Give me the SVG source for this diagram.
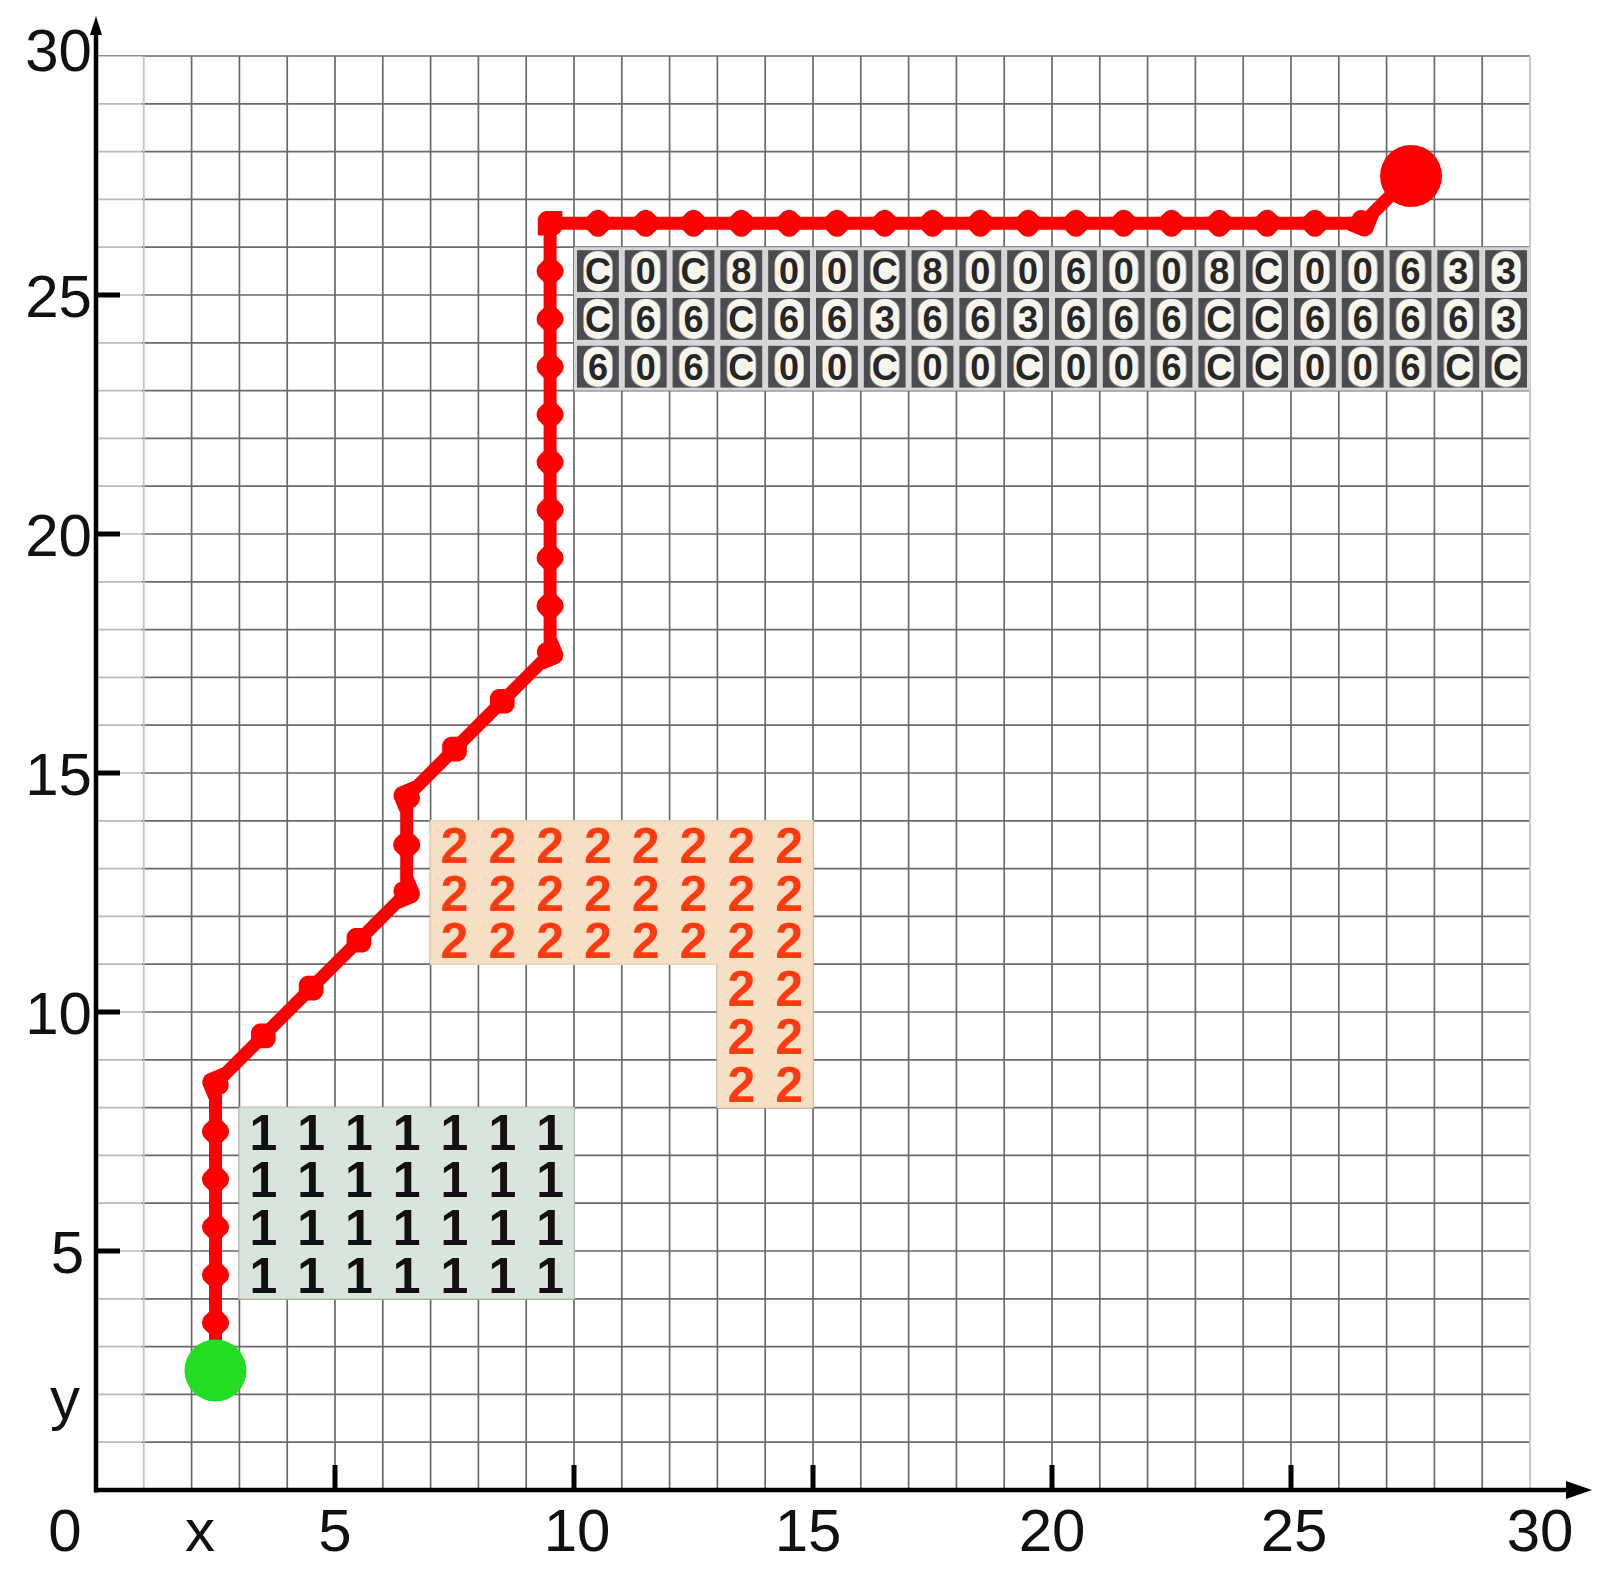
<svg xmlns="http://www.w3.org/2000/svg" width="1600" height="1573" viewBox="0 0 1600 1573">
<style>
.lbl{font-family:"Liberation Sans",Arial,sans-serif;font-size:60px;fill:#111}
.one{font-family:"Liberation Sans",Arial,sans-serif;font-size:50px;font-weight:bold;fill:#111;text-anchor:middle}
.two{font-family:"Liberation Sans",Arial,sans-serif;font-size:50px;font-weight:bold;fill:#ff3a12;text-anchor:middle}
.zero{font-family:"Liberation Sans",Arial,sans-serif;font-size:36px;font-weight:bold;fill:#262629;text-anchor:middle}
.grid{fill:none;stroke:#6a6a6a;stroke-width:1.7}
.gridl{fill:none;stroke:#c4c4c4;stroke-width:1.8}
.axis{fill:none;stroke:#000;stroke-width:4.5}
.tick{fill:none;stroke:#000;stroke-width:5}
</style>
<defs>
<pattern id="cells" x="574" y="247.2" width="47.8" height="47.8" patternUnits="userSpaceOnUse">
<rect width="47.8" height="47.8" fill="#d6d6d6"/>
<rect x="3" y="3" width="41.8" height="41.8" fill="#4b4b50"/>
<rect x="9.5" y="4" width="29" height="40" rx="13" fill="#f7f5ec"/>
</pattern>
<marker id="dot" viewBox="-18 -18 36 36" markerWidth="36" markerHeight="36" markerUnits="userSpaceOnUse" orient="auto" refX="0" refY="0">
<path d="M-16 0L-5-11Q0-14 5-11L16 0L5 11Q0 14-5 11Z" fill="#f00" stroke="#f00" stroke-width="2" stroke-linejoin="round"/>
</marker>
</defs>
<rect width="1600" height="1573" fill="#fff"/>
<g id="grid">
<path class="grid" d="M191.6 56V1490M239.4 56V1490M287.2 56V1490M335 56V1490M382.8 56V1490M430.6 56V1490M478.4 56V1490M526.2 56V1490M574 56V1490M621.8 56V1490M669.6 56V1490M717.4 56V1490M765.2 56V1490M813 56V1490M860.8 56V1490M908.6 56V1490M956.4 56V1490M1004.2 56V1490M1052 56V1490M1099.8 56V1490M1147.6 56V1490M1195.4 56V1490M1243.2 56V1490M1291 56V1490M1338.8 56V1490M1386.6 56V1490M1434.4 56V1490M1482.2 56V1490M96 1442.2H1530M96 1394.4H1530M96 1346.6H1530M96 1298.8H1530M96 1251H1530M96 1203.2H1530M96 1155.4H1530M96 1107.6H1530M96 1059.8H1530M96 1012H1530M96 964.2H1530M96 916.4H1530M96 868.6H1530M96 820.8H1530M96 773H1530M96 725.2H1530M96 677.4H1530M96 629.6H1530M96 581.8H1530M96 534H1530M96 486.2H1530M96 438.4H1530M96 390.6H1530M96 342.8H1530M96 295H1530M96 247.2H1530M96 199.4H1530M96 151.6H1530M96 103.8H1530M96 56H1530"/>
<rect x="98" y="56" width="44" height="1432" fill="#fff" opacity="0.55"/>
<path class="gridl" d="M143.8 56V1490M1530 56V1490"/>
</g>
<g id="region-1">
<rect x="239.4" y="1107.6" width="334.6" height="191.2" fill="#d8e5da" stroke="#c5d2c7" stroke-width="1.5"/>
<text class="one" x="263.3 311.1 358.9 406.7 454.5 502.3 550.1" y="1149.5">1111111</text>
<text class="one" x="263.3 311.1 358.9 406.7 454.5 502.3 550.1" y="1197.3">1111111</text>
<text class="one" x="263.3 311.1 358.9 406.7 454.5 502.3 550.1" y="1245.1">1111111</text>
<text class="one" x="263.3 311.1 358.9 406.7 454.5 502.3 550.1" y="1292.9">1111111</text>
</g>
<g id="region-2">
<path d="M430.6 820.8H813V1107.6H717.4V964.2H430.6Z" fill="#f7dfc4" stroke="#ecd2b4" stroke-width="1.5"/>
<text class="two" x="454.5 502.3 550.1 597.9 645.7 693.5 741.3 789.1" y="862.7">22222222</text>
<text class="two" x="454.5 502.3 550.1 597.9 645.7 693.5 741.3 789.1" y="910.5">22222222</text>
<text class="two" x="454.5 502.3 550.1 597.9 645.7 693.5 741.3 789.1" y="958.3">22222222</text>
<text class="two" x="741.3 789.1" y="1006.1">22</text>
<text class="two" x="741.3 789.1" y="1053.9">22</text>
<text class="two" x="741.3 789.1" y="1101.7">22</text>
</g>
<g id="region-3">
<rect x="574" y="247.2" width="956" height="143.4" fill="url(#cells)"/>
<text class="zero" x="597.9 645.7 693.5 741.3 789.1 836.9 884.7 932.5 980.3 1028.1 1075.9 1123.7 1171.5 1219.3 1267.1 1314.9 1362.7 1410.5 1458.3 1506.1" y="284">C0C800C8006008C00633</text>
<text class="zero" x="597.9 645.7 693.5 741.3 789.1 836.9 884.7 932.5 980.3 1028.1 1075.9 1123.7 1171.5 1219.3 1267.1 1314.9 1362.7 1410.5 1458.3 1506.1" y="331.8">C66C663663666CC66663</text>
<text class="zero" x="597.9 645.7 693.5 741.3 789.1 836.9 884.7 932.5 980.3 1028.1 1075.9 1123.7 1171.5 1219.3 1267.1 1314.9 1362.7 1410.5 1458.3 1506.1" y="379.6">606C00C00C006CC006CC</text>
</g>
<g id="axes">
<path class="axis" d="M96 1492.5V30"/>
<path d="M96 16L90 35H102Z" fill="#000"/>
<path class="axis" d="M94 1490H1570"/>
<path d="M1592 1490L1566 1481V1499Z" fill="#000"/>
<path class="tick" d="M96 295H120M96 534H120M96 773H120M96 1012H120M96 1251H120M335 1490V1465M574 1490V1465M813 1490V1465M1052 1490V1465M1291 1490V1465"/>
<text class="lbl" x="92" y="71" text-anchor="end">30</text>
<text class="lbl" x="92" y="316.5" text-anchor="end">25</text>
<text class="lbl" x="92" y="555.5" text-anchor="end">20</text>
<text class="lbl" x="92" y="794.5" text-anchor="end">15</text>
<text class="lbl" x="92" y="1033.5" text-anchor="end">10</text>
<text class="lbl" x="84" y="1272.5" text-anchor="end">5</text>
<text class="lbl" x="65" y="1419" text-anchor="middle">y</text>
<text class="lbl" x="65" y="1551" text-anchor="middle">0</text>
<text class="lbl" x="200" y="1551" text-anchor="middle">x</text>
<text class="lbl" x="335" y="1551" text-anchor="middle">5</text>
<text class="lbl" x="577" y="1551" text-anchor="middle">10</text>
<text class="lbl" x="808" y="1551" text-anchor="middle">15</text>
<text class="lbl" x="1052" y="1551" text-anchor="middle">20</text>
<text class="lbl" x="1294" y="1551" text-anchor="middle">25</text>
<text class="lbl" x="1540" y="1551" text-anchor="middle">30</text>
</g>
<g id="connectors">
<polyline fill="none" stroke="#f00" stroke-width="13" stroke-linejoin="round" stroke-linecap="round" marker-mid="url(#dot)" points="215.5,1370.5 215.5,1322.7 215.5,1274.9 215.5,1227.1 215.5,1179.3 215.5,1131.5 215.5,1083.7 263.3,1035.9 311.1,988.1 358.9,940.3 406.7,892.5 406.7,844.7 406.7,796.9 454.5,749.1 502.3,701.3 550.1,653.5 550.1,605.7 550.1,557.9 550.1,510.1 550.1,462.3 550.1,414.5 550.1,366.7 550.1,318.9 550.1,271.1 550.1,223.3 597.9,223.3 645.7,223.3 693.5,223.3 741.3,223.3 789.1,223.3 836.9,223.3 884.7,223.3 932.5,223.3 980.3,223.3 1028.1,223.3 1075.9,223.3 1123.7,223.3 1171.5,223.3 1219.3,223.3 1267.1,223.3 1314.9,223.3 1362.7,223.3 1410.5,175.5"/>
</g>
<g id="start">
<circle cx="215.5" cy="1370.5" r="31" fill="#22dd22"/>
</g>
<g id="end">
<circle cx="1411" cy="176" r="31" fill="#f00"/>
</g>
</svg>
